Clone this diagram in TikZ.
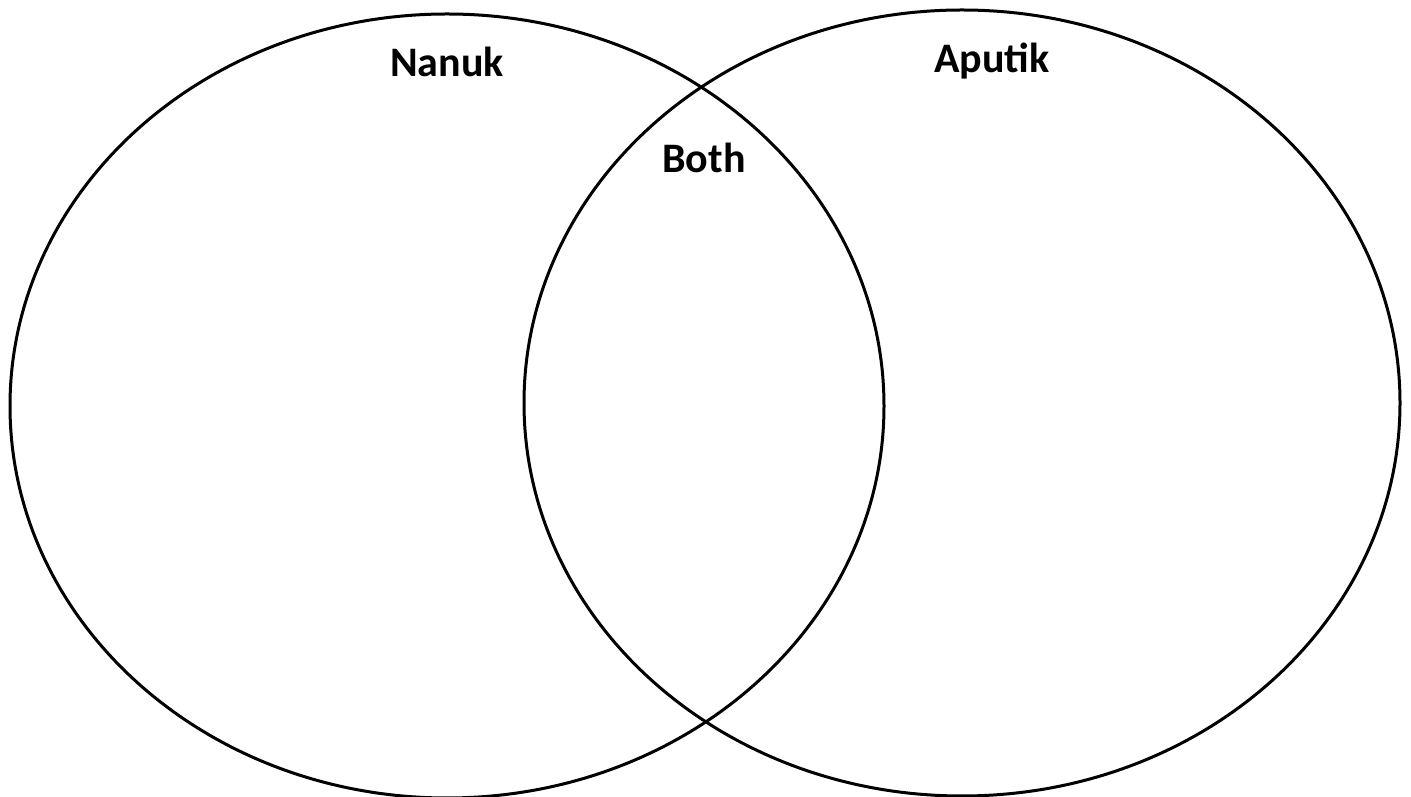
\documentclass[tikz,border=0pt]{standalone}
\usepackage{fontspec}
\setmainfont{Carlito}
\usepackage{tikz}

\begin{document}
\begin{tikzpicture}[x=1pt, y=1pt, line width=3pt,
  setname/.style={anchor=base, inner sep=0pt, font=\fontsize{42}{50}\selectfont\bfseries}]
  \useasboundingbox (0,0) rectangle (1411,797);
  %% the two sets
  \draw (447,391) ellipse [x radius=437, y radius=392];
  \draw (962,394) ellipse [x radius=438, y radius=393];
  %% labels
  \node[setname] (nanuk) at (447,720) {Nanuk};
  \node[setname] (aputik) at (992,724) {Aputik};
  \node[setname] (both) at (704,624) {Both};
\end{tikzpicture}
\end{document}
